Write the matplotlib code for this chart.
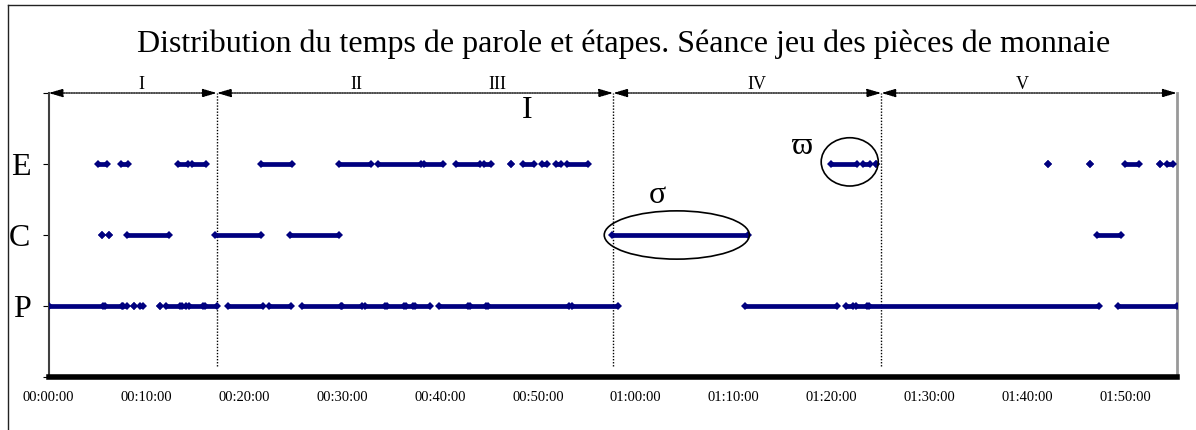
import matplotlib
matplotlib.use("Agg")
import matplotlib.pyplot as plt
from matplotlib.patches import Ellipse
from matplotlib.lines import Line2D
from matplotlib.ticker import FixedLocator, FuncFormatter

plt.rcParams['font.family'] = ['Liberation Serif', 'DejaVu Serif']

# speaking intervals, in minutes from start (start, end); start == end is one utterance
P_segments = [(0, 5.6), (5.8, 7.5), (7.65, 8.05), (8.75, 8.75), (9.3, 9.7), (11.4, 11.4),
              (12.0, 13.4), (13.6, 14.0), (14.4, 15.8), (16.0, 17.2), (18.3, 21.9),
              (22.5, 24.8), (25.95, 29.9), (30.0, 32.0), (32.3, 34.4), (34.6, 36.3),
              (36.5, 37.2), (37.4, 39.0), (39.9, 42.9), (43.1, 44.7), (44.9, 53.2),
              (53.5, 58.2), (71.2, 80.6), (81.5, 82.2), (82.5, 83.6), (83.8, 107.3),
              (109.3, 115.3)]
C_segments = [(5.5, 5.5), (6.2, 6.2), (8.0, 12.35), (17.0, 21.7), (24.7, 29.7),
              (57.6, 71.5), (107.1, 109.6)]
E_segments = [(5.1, 6.0), (7.4, 8.1), (13.2, 14.3), (14.7, 16.1), (21.7, 24.9),
              (29.7, 33.0), (33.7, 38.1), (38.4, 40.3), (41.6, 44.1), (44.5, 45.2),
              (47.3, 47.3), (48.5, 49.6), (50.4, 50.9), (51.9, 52.4), (53.0, 55.1),
              (80.0, 82.6), (83.2, 83.9), (84.6, 84.6), (102.1, 102.1), (106.4, 106.4),
              (110.0, 111.4), (113.6, 113.6), (114.3, 114.9)]

rows = {'P': 1, 'C': 2, 'E': 3}
row_segments = {'P': P_segments, 'C': C_segments, 'E': E_segments}

# phases (start, end) and labels
phase_bounds = [0, 17.2, 57.7, 85.1, 115.3]
phase_labels = ['I', 'II', 'III', 'IV', 'V']
phase_label_x = [9.5, 31.5, 45.9, 72.4, 99.5]

xticks = list(range(0, 111, 10))
navy = '#00007f'

fig = plt.figure(figsize=(11.96, 4.30), dpi=100)
ax = fig.add_axes([0.0406, 0.1233, 0.9434, 0.6604])
ax.set_xlim(0, 115.3)
ax.set_ylim(0, 4)

for name, segs in row_segments.items():
    y = rows[name]
    for s, e in segs:
        ax.plot([s, e], [y, y], color=navy, lw=3.4, solid_capstyle='butt',
                marker='D', ms=3.6, mew=0, zorder=3)

# phase separators
ax.vlines(phase_bounds[1:4], 0.15, 4, colors='black', linestyles=(0, (1, 1.2)), lw=1)

# top arrows
for s, e in zip(phase_bounds[:-1], phase_bounds[1:]):
    ax.annotate('', xy=(e, 4), xytext=(s, 4), annotation_clip=False,
                arrowprops=dict(arrowstyle='<|-|>,head_length=0.85,head_width=0.25',
                                mutation_scale=10, color='black', lw=1, ls=(0, (1, 0.8)),
                                shrinkA=0, shrinkB=0))
for x, lab in zip(phase_label_x, phase_labels):
    ax.text(x, 4.06, lab, ha='center', va='baseline', fontsize=13, clip_on=False)

ax.text(48.9, 3.65, 'I', ha='center', va='baseline', fontsize=23)

# annotations
ax.add_patch(Ellipse((64.2, 2.0), 14.83, 0.68, fill=False, ec='black', lw=1.2, zorder=4))
ax.add_patch(Ellipse((81.87, 3.03), 5.83, 0.68, fill=False, ec='black', lw=1.2, zorder=4))
ax.text(62.2, 2.45, 'σ', ha='center', va='baseline', fontsize=23)
ax.text(77.0, 3.14, 'ϖ', ha='center', va='baseline', fontsize=23)

# axes styling
ax.spines['top'].set_visible(False)
ax.spines['left'].set_color('#404040')
ax.spines['left'].set_linewidth(1.5)
ax.spines['right'].set_color('#999999')
ax.spines['right'].set_linewidth(2)
ax.spines['bottom'].set_color('black')
ax.spines['bottom'].set_linewidth(4)

ax.yaxis.set_major_locator(FixedLocator([0, 1, 2, 3, 4]))
ax.set_yticklabels(['', 'P', 'C', 'E', ''])
ax.tick_params(axis='y', direction='out', length=4, width=0.8, pad=9, labelsize=23)

ax.xaxis.set_major_locator(FixedLocator(xticks))
ax.xaxis.set_major_formatter(FuncFormatter(
    lambda v, p: '%02d:%02d:00' % (int(v) // 60, int(v) % 60)))
ax.tick_params(axis='x', length=0, pad=10, labelsize=10.5)

fig.text(624 / 1196, 1 - 52 / 430,
         'Distribution du temps de parole et étapes. Séance jeu des pièces de monnaie',
         ha='center', va='baseline', fontsize=23)

# outer frame (left and top edges)
fig.add_artist(Line2D([8 / 1196, 8 / 1196], [0, 1 - 5 / 430], color='#222222', lw=1))
fig.add_artist(Line2D([8 / 1196, 1], [1 - 5 / 430, 1 - 5 / 430], color='#222222', lw=1))

fig.savefig('out.png', dpi=100)
